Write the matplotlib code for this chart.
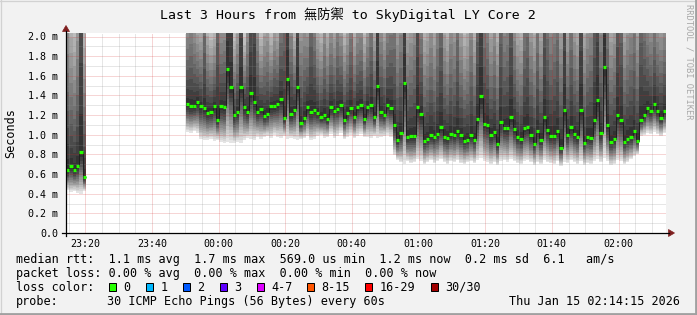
import matplotlib
matplotlib.use("Agg")
import matplotlib.pyplot as plt
import numpy as np
from matplotlib.patches import Rectangle, Polygon
from matplotlib.lines import Line2D

# ---------------- data ----------------
title = "Last 3 Hours from 無防禦 to SkyDigital LY Core 2"
xtick_labels = ["23:20", "23:40", "00:00", "00:20", "00:40", "01:00", "01:20", "01:40", "02:00"]
ytick_values = [0.0, 0.2, 0.4, 0.6, 0.8, 1.0, 1.2, 1.4, 1.6, 1.8, 2.0]
ytick_labels = ["0.0", "0.2 m", "0.4 m", "0.6 m", "0.8 m", "1.0 m", "1.2 m", "1.4 m", "1.6 m", "1.8 m", "2.0 m"]

# samples are 1 minute apart, minute 0 = 23:14:15
start_a = 0
median_a = [0.64, 0.68, 0.64, 0.68, 0.82, 0.57]
low_a = [0.44, 0.42, 0.43, 0.41, 0.40, 0.43]
high_a = [3.6, 2.8, 2.6, 3.4, 11.0, 2.7]

start_b = 36
median_b = [
    1.31, 1.29, 1.29, 1.33, 1.29, 1.27, 1.22, 1.23, 1.29, 1.15, 1.29, 1.28,
    1.67, 1.49, 1.20, 1.23, 1.49, 1.28, 1.23, 1.43, 1.33, 1.23, 1.26, 1.19,
    1.21, 1.29, 1.29, 1.31, 1.36, 1.17, 1.57, 1.21, 1.25, 1.49, 1.12, 1.17,
    1.28, 1.23, 1.25, 1.22, 1.18, 1.20, 1.16, 1.28, 1.24, 1.26, 1.30, 1.15,
    1.22, 1.27, 1.18, 1.28, 1.30, 1.16, 1.28, 1.30, 1.18, 1.50, 1.23, 1.20,
    1.30, 1.27, 1.10, 0.95, 1.02, 1.53, 0.98, 0.99, 0.99, 1.28, 1.21, 0.94,
    0.96, 1.00, 0.98, 1.01, 1.08, 0.98, 0.97, 1.01, 1.00, 1.04, 1.00, 0.94,
    0.95, 1.00, 0.95, 1.16, 1.39, 1.11, 1.10, 1.00, 1.03, 0.91, 1.13, 1.07,
    1.07, 1.18, 1.06, 0.98, 0.96, 1.07, 1.08, 1.00, 0.91, 1.04, 0.95, 1.18,
    1.05, 0.99, 0.99, 1.04, 0.87, 1.25, 1.00, 1.08, 1.01, 0.98, 1.25, 0.92,
    0.98, 0.97, 1.15, 1.35, 1.02, 1.69, 1.10, 0.93, 0.96, 1.20, 1.15, 0.93,
    0.96, 0.98, 1.04, 0.94, 1.15, 1.20, 1.27, 1.24, 1.31, 1.24, 1.17, 1.24,
]
low_b = [
    1.03, 1.02, 1.04, 1.02, 0.96, 0.95, 0.95, 0.96, 0.94, 0.95, 0.93, 0.92,
    0.93, 0.92, 0.92, 0.93, 0.92, 0.95, 0.97, 0.96, 0.95, 0.98, 0.96, 0.98,
    0.99, 0.97, 1.00, 0.98, 0.97, 0.99, 0.96, 0.97, 0.96, 0.95, 0.96, 0.97,
    0.99, 0.95, 0.96, 0.99, 1.00, 0.97, 0.98, 1.01, 0.97, 0.99, 1.02, 0.96,
    0.98, 1.00, 0.97, 0.99, 1.01, 0.98, 0.98, 0.97, 0.99, 0.97, 0.98, 0.99,
    1.00, 0.98, 0.79, 0.74, 0.72, 0.70, 0.73, 0.71, 0.72, 0.75, 0.73, 0.70,
    0.72, 0.74, 0.71, 0.73, 0.75, 0.72, 0.70, 0.73, 0.72, 0.74, 0.71, 0.70,
    0.72, 0.73, 0.71, 0.74, 0.76, 0.73, 0.72, 0.70, 0.72, 0.69, 0.73, 0.74,
    0.72, 0.75, 0.73, 0.71, 0.70, 0.73, 0.74, 0.72, 0.69, 0.72, 0.70, 0.74,
    0.72, 0.71, 0.70, 0.73, 0.68, 0.72, 0.71, 0.74, 0.72, 0.70, 0.73, 0.69,
    0.71, 0.70, 0.73, 0.75, 0.72, 0.76, 0.73, 0.69, 0.70, 0.74, 0.73, 0.70,
    0.72, 0.75, 0.78, 0.80, 0.99, 1.00, 1.02, 1.01, 1.03, 1.01, 0.99, 1.02,
]
high_b = [
    3.0, 3.2, 2.9, 2.6, 2.5, 4.0, 2.5, 2.3, 2.4, 5.0, 2.9, 3.0,
    9.0, 8.0, 2.3, 2.7, 7.0, 2.2, 3.0, 6.0, 8.0, 3.1, 2.3, 2.7,
    2.8, 2.3, 2.7, 2.5, 3.5, 4.5, 9.0, 3.2, 2.4, 7.0, 2.9, 3.0,
    2.8, 4.5, 3.5, 2.6, 2.4, 3.0, 2.5, 2.9, 2.6, 3.3, 2.8, 2.4,
    2.7, 3.4, 2.5, 2.9, 3.0, 2.4, 2.8, 3.5, 2.6, 8.0, 3.0, 2.6,
    3.2, 3.5, 4.0, 3.0, 3.5, 9.0, 2.8, 3.0, 3.3, 7.0, 3.5, 2.6,
    2.8, 3.2, 2.7, 3.6, 5.0, 2.9, 2.6, 3.3, 3.0, 4.5, 2.9, 2.5,
    2.7, 3.4, 2.6, 5.0, 9.0, 4.0, 3.6, 2.8, 3.2, 2.6, 5.0, 3.4,
    3.6, 6.0, 3.3, 2.7, 2.6, 4.0, 4.5, 3.0, 2.7, 4.0, 2.8, 6.0,
    4.5, 3.5, 3.8, 4.5, 3.0, 8.0, 2.8, 4.0, 3.0, 2.7, 8.0, 2.7,
    3.2, 3.5, 5.5, 8.0, 3.5, 10.0, 4.0, 2.8, 3.0, 6.0, 5.0, 2.8,
    3.2, 3.5, 4.0, 2.9, 5.0, 4.0, 3.2, 3.0, 3.5, 3.0, 2.9, 3.1,
]

loss_labels = ["0", "1", "2", "3", "4-7", "8-15", "16-29", "30/30"]
loss_colors = ["#26ff00", "#00b8ff", "#0059ff", "#5e00ff", "#dd00ff", "#ff5500", "#ff0000", "#a00000"]

line_median = "median rtt:  1.1 ms avg  1.7 ms max  569.0 us min  1.2 ms now  0.2 ms sd  6.1   am/s"
line_loss = "packet loss: 0.00 % avg  0.00 % max  0.00 % min  0.00 % now"
probe_text = "30 ICMP Echo Pings (56 Bytes) every 60s"
date_text = "Thu Jan 15 02:14:15 2026"

# ---------------- layout ----------------
W, H = 697, 315
MONO = ["DejaVu Sans Mono", "Noto Sans CJK TC"]
BG = "#f2f2f2"

fig = plt.figure(figsize=(W / 100, H / 100), dpi=100, facecolor=BG)


def fx(px):
    return px / W


def fy(py):
    return 1 - py / H


X0, X1, Y0, Y1 = 66, 666, 233, 33
PX_PER_MS = 98.25
ax = fig.add_axes([fx(X0), fy(Y0), (X1 - X0) / W, (Y0 - Y1) / H])
ax.set_facecolor("white")
ax.set_xlim(0, 180)
ax.set_ylim(0, (Y0 - Y1) / PX_PER_MS)
for s in ax.spines.values():
    s.set_visible(False)

NB = 15


def draw_smoke(start, med, lo, hi):
    med = np.asarray(med, float)
    lo = np.asarray(lo, float)
    hi = np.asarray(hi, float)
    x = np.arange(start, start + len(med))
    for k in range(NB):
        fu = ((NB - k) / NB) ** 1.2
        fl = ((NB - k) / NB) ** 0.8
        bottom = med - (med - lo) * fl
        top = med + (hi - med) * fu
        g = (228 - 178 * k / (NB - 1)) / 255
        ax.bar(x, top - bottom, width=1.0, bottom=bottom, align="edge",
               color=(g, g, g), linewidth=0, antialiased=False, zorder=1)
    edges = np.arange(start, start + len(med) + 1)
    ax.stairs(med, edges, baseline=None, color="#202020", lw=0.72, zorder=4)
    ax.hlines(med, x, x + 1, colors=loss_colors[0], lw=2.3, zorder=5)


draw_smoke(start_a, median_a, low_a, high_a)
draw_smoke(start_b, median_b, low_b, high_b)

# grid (drawn over smoke like rrdtool)
minor_c = (0.55, 0.55, 0.55, 0.42)
major_c = (0.82, 0.15, 0.15, 0.38)
for i in range(1, 21):
    v = i * 0.1
    ax.axhline(v, color=major_c if i % 2 == 0 else minor_c, lw=0.72,
               ls=(0, (1, 1)), zorder=3)
first_major = 5.75
for i in range(0, 36):
    t = 0.75 + 5 * i
    if t > 180:
        break
    is_major = abs(((t - first_major) / 20) - round((t - first_major) / 20)) < 1e-6
    ax.axvline(t, color=major_c if is_major else minor_c, lw=0.72,
               ls=(0, (1, 1)), zorder=3)

ax.set_yticks(ytick_values)
ax.set_yticklabels(ytick_labels, family=MONO, fontsize=7.2)
ax.set_xticks([first_major + 20 * i for i in range(len(xtick_labels))])
ax.set_xticklabels(xtick_labels, family=MONO, fontsize=7.2)
ax.tick_params(axis="y", length=0, pad=5.6, colors="black")
ax.tick_params(axis="x", length=0, pad=4.0, colors="black")

# axes lines and arrows
fig.add_artist(Line2D([fx(62), fx(669)], [fy(233), fy(233)], color="black", lw=0.9))
fig.add_artist(Line2D([fx(66), fx(66)], [fy(236), fy(31)], color="black", lw=0.9))
arrow_c = "#7f1f1f"
fig.add_artist(Polygon([[fx(62.5), fy(31.5)], [fx(69.5), fy(31.5)], [fx(66), fy(25.5)]],
                       closed=True, facecolor=arrow_c, edgecolor=arrow_c, lw=0.5))
fig.add_artist(Polygon([[fx(668.5), fy(229.5)], [fx(668.5), fy(236.5)], [fx(674.5), fy(233)]],
                       closed=True, facecolor=arrow_c, edgecolor=arrow_c, lw=0.5))

# texts
fig.text(fx(348), fy(19), title, ha="center", va="baseline", fontsize=9.5, family=MONO, color="black")
fig.text(fx(11), fy(133), "Seconds", rotation=90, ha="center", va="center", fontsize=8.5, family=MONO)
fig.text(fx(689), fy(4), "RRDTOOL / TOBI OETIKER", rotation=270, ha="center", va="top",
         fontsize=6.3, family=MONO, color="#a8a8a8")

LX = 16
fs = 8.5
fig.text(fx(LX), fy(263), line_median, ha="left", va="baseline", fontsize=fs, family=MONO)
fig.text(fx(LX), fy(277), line_loss, ha="left", va="baseline", fontsize=fs, family=MONO)
fig.text(fx(LX), fy(291), "loss color:", ha="left", va="baseline", fontsize=fs, family=MONO)
fig.text(fx(LX), fy(305), "probe:", ha="left", va="baseline", fontsize=fs, family=MONO)
fig.text(fx(107), fy(305), probe_text, ha="left", va="baseline", fontsize=fs, family=MONO)
fig.text(fx(680), fy(305), date_text, ha="right", va="baseline", fontsize=fs, family=MONO)

sq_x = [108.5, 145.8, 182.9, 219.9, 257.0, 307.0, 365.2, 430.9]
for sx, lab, col in zip(sq_x, loss_labels, loss_colors):
    fig.add_artist(Rectangle((fx(sx), fy(291)), 7 / W, 8 / H, facecolor=col,
                             edgecolor="black", lw=0.72))
    fig.text(fx(sx + 14.5), fy(291), lab, ha="left", va="baseline", fontsize=fs, family=MONO)

# frame
fig.add_artist(Line2D([0, 1], [fy(0.5), fy(0.5)], color="#d2d2d2", lw=0.9))
fig.add_artist(Line2D([fx(0.5), fx(0.5)], [0, 1], color="#d2d2d2", lw=0.9))
fig.add_artist(Line2D([0, 1], [fy(313.5), fy(313.5)], color="#a0a0a0", lw=2.0))
fig.add_artist(Line2D([fx(695.5), fx(695.5)], [0, 1], color="#a0a0a0", lw=2.0))

fig.savefig("out.png", dpi=100, facecolor=BG)
